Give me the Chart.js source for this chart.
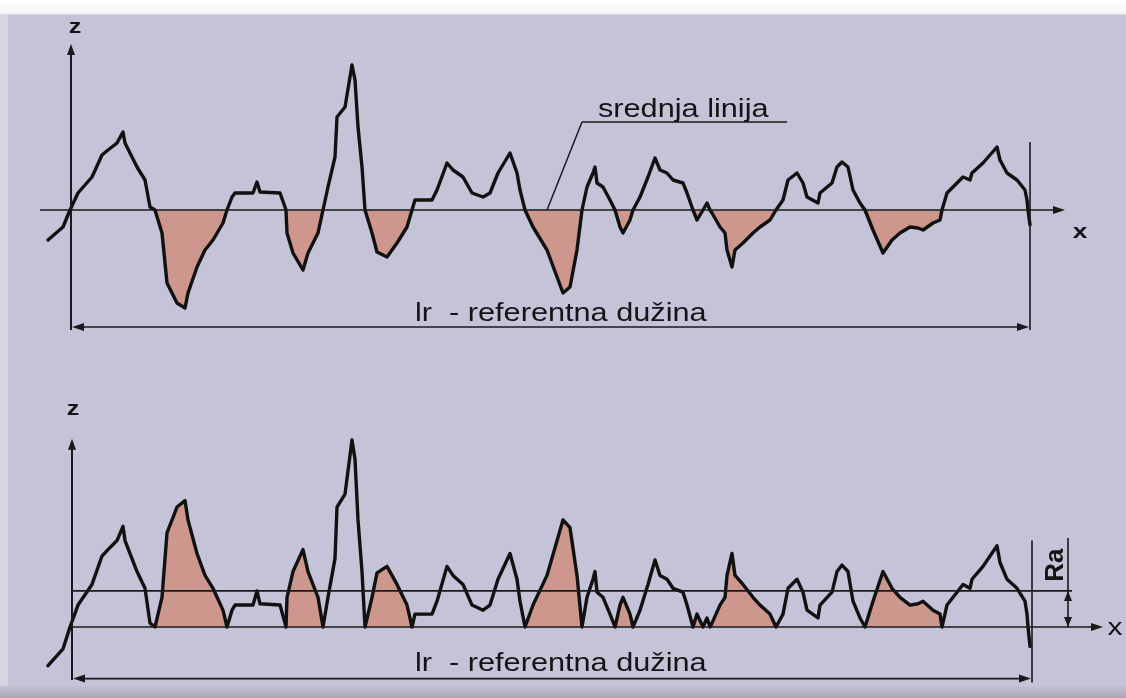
<!DOCTYPE html>
<html>
<head>
<meta charset="utf-8">
<script src="https://cdn.jsdelivr.net/npm/chart.js@4/dist/chart.umd.min.js"></script>
<style>
html,body{margin:0;padding:0;overflow:hidden;background:#c4c3d7;}
canvas{display:block;}
</style>
</head>
<body>
<canvas id="c" width="1126" height="698"></canvas>
<script>
// Profile position along the reference length (x) and height relative to the mean line (z)
const profileX = [-22,-7,0,8,22,32,38,47,53,55,67,75,80,85,92,97,107,115,118,127,135,143,153,157,162,165,183,187,190,210,215,216,217,223,233,238,248,253,258,265,267,275,282,285,288,292,295,302,307,317,327,337,342,345,362,367,377,383,393,402,413,420,428,440,447,450,455,463,477,493,500,507,512,517,523,525,527,533,540,545,550,553,560,563,570,578,585,590,597,603,613,617,623,627,633,637,640,642,650,655,657,662,665,673,683,690,700,706,713,718,727,733,737,748,750,762,767,772,778,783,790,795,803,813,822,830,840,848,853,863,870,872,877,887,893,900,902,913,927,930,937,947,955,957,958,960];
const profileZ = [-30,-17,0,17,33,55,60,67,78,67,43,30,3,0,-23,-73,-93,-98,-83,-57,-40,-30,-13,0,13,17,17,28,18,17,3,0,-23,-43,-60,-43,-23,0,23,53,93,103,145,130,83,43,0,-23,-42,-47,-33,-17,0,10,10,20,47,40,33,17,13,17,37,57,37,20,0,-17,-40,-83,-77,-40,0,23,37,43,27,23,10,0,-17,-23,-10,0,13,33,52,40,37,30,27,17,0,-10,0,7,0,-3,-17,-23,-40,-57,-40,-33,-23,-17,-10,0,10,30,37,27,13,7,17,27,43,48,43,20,7,0,-20,-43,-30,-23,-17,-18,-20,-13,-10,0,17,27,33,30,37,47,63,50,37,30,20,10,0,-15];
const raValue = 28;          // Ra: arithmetic mean deviation (bottom chart)
const lrStart = 0;           // start of reference length lr
const lrEnd = 960;           // end of reference length lr
const flipEnd = 958;         // last point inside the evaluated range
const labelTop = "srednja linija";
const labelLr = "lr  - referentna dužina";
const labelLr2 = "lr  - referentna dužina";

const fillColor = '#cd978d';
const lineColor = '#111111';

const inLr = x => x>=lrStart && x<=flipEnd;
const topPts = profileX.map((x,i)=>({x:x, y:profileZ[i]}));
const topFill = profileX.map((x,i)=>({x:x, y:(inLr(x) && profileZ[i]<0) ? profileZ[i] : 0}));
const botPts = profileX.map((x,i)=>({x:x, y:inLr(x) ? Math.abs(profileZ[i]) : profileZ[i]}));
const botFill = profileX.map((x,i)=>({x:x, y:(inLr(x) && profileZ[i]<0) ? -profileZ[i] : 0}));

function arrow(ctx, x, y, dir, len, w){
  len = len||11; w = w||4;
  ctx.beginPath();
  if(dir==='r'){ctx.moveTo(x,y);ctx.lineTo(x-len,y-w);ctx.lineTo(x-len,y+w);}
  if(dir==='l'){ctx.moveTo(x,y);ctx.lineTo(x+len,y-w);ctx.lineTo(x+len,y+w);}
  if(dir==='u'){ctx.moveTo(x,y);ctx.lineTo(x-w,y+len);ctx.lineTo(x+w,y+len);}
  if(dir==='d'){ctx.moveTo(x,y);ctx.lineTo(x-w,y-len);ctx.lineTo(x+w,y-len);}
  ctx.closePath();ctx.fill();
}
function line(ctx,x1,y1,x2,y2,w){
  ctx.lineWidth=w||1.5;ctx.beginPath();ctx.moveTo(x1,y1);ctx.lineTo(x2,y2);ctx.stroke();
}
function stext(ctx, t, x, y, font, sx, align){
  ctx.save();ctx.font=font;ctx.textAlign=align||'left';ctx.textBaseline='alphabetic';
  ctx.translate(x,y);ctx.scale(sx,1);ctx.fillText(t,0,0);ctx.restore();
}

const bgPlugin = {
  id:'bg',
  beforeDraw(chart){
    const ctx=chart.ctx, W=chart.width, H=chart.height;
    ctx.save();
    ctx.fillStyle='#c4c3d7';ctx.fillRect(0,0,W,H);
    let g=ctx.createLinearGradient(0,0,0,16);
    g.addColorStop(0,'#ffffff');g.addColorStop(0.8,'#f6f6f9');g.addColorStop(1,'#c8c7da');
    ctx.fillStyle=g;ctx.fillRect(0,0,W,15);
    ctx.fillStyle='rgba(225,225,235,0.6)';ctx.fillRect(0,15,8,H-15);
    g=ctx.createLinearGradient(0,686,0,698);
    g.addColorStop(0,'#c2c1d4');g.addColorStop(1,'#a9a8b8');
    ctx.fillStyle=g;ctx.fillRect(0,686,W,12);
    ctx.restore();
  }
};

const annoPlugin = {
  id:'anno',
  afterDatasetsDraw(chart){
    const ctx=chart.ctx, xs=chart.scales.x, yt=chart.scales.yTop, yb=chart.scales.yBot;
    const X=v=>xs.getPixelForValue(v);
    ctx.save();
    ctx.strokeStyle='#1a1a1a';ctx.fillStyle='#1a1a1a';
    // ---------- top chart ----------
    const m=yt.getPixelForValue(0);
    const x0=X(lrStart)+1, x1=X(lrEnd);
    line(ctx, X(-30), m, X(990), m, 1.6); arrow(ctx, X(995), m, 'r', 12, 4);
    line(ctx, x0, yt.getPixelForValue(-120), x0, yt.getPixelForValue(158), 2); arrow(ctx, x0, yt.getPixelForValue(166), 'u', 11, 4);
    line(ctx, x1, yt.getPixelForValue(68), x1, yt.getPixelForValue(-120), 1.6);
    const lrY=yt.getPixelForValue(-117);
    line(ctx, x0+8, lrY, x1-8, lrY, 1.6); arrow(ctx, x0+1, lrY, 'l', 12, 4); arrow(ctx, x1-1, lrY, 'r', 12, 4);
    // leader to mean line
    line(ctx, X(477), m, X(512), yt.getPixelForValue(88), 1.5);
    line(ctx, X(512), yt.getPixelForValue(88), X(717), yt.getPixelForValue(88), 1.5);
    ctx.fillStyle='#141414';
    stext(ctx, labelTop, X(528), yt.getPixelForValue(93), '26px "Liberation Sans", Arial, sans-serif', 1.18);
    stext(ctx, labelLr, X(345), yt.getPixelForValue(-111), '26px "Liberation Sans", Arial, sans-serif', 1.18);
    stext(ctx, 'z', X(5), yt.getPixelForValue(177), 'bold 21px "Liberation Sans", Arial, sans-serif', 1.2, 'center');
    stext(ctx, 'x', X(1010), yt.getPixelForValue(-28), 'bold 21px "Liberation Sans", Arial, sans-serif', 1.25, 'center');
    // ---------- bottom chart ----------
    ctx.fillStyle='#1a1a1a';
    const b=yb.getPixelForValue(0), ra=yb.getPixelForValue(raValue);
    const bx0=X(lrStart)+2, bx1=X(lrEnd)+2;
    line(ctx, bx0, b, X(1026), b, 1.6); arrow(ctx, X(1033), b, 'r', 12, 4);
    line(ctx, bx0, ra, X(1002), ra, 1.6);
    line(ctx, bx0, yb.getPixelForValue(-41), bx0, yb.getPixelForValue(138), 2); arrow(ctx, bx0, yb.getPixelForValue(146), 'u', 11, 4);
    line(ctx, bx1, yb.getPixelForValue(67), bx1, yb.getPixelForValue(-43), 1.6);
    const lrY2=yb.getPixelForValue(-40);
    line(ctx, bx0+8, lrY2, bx1-8, lrY2, 1.6); arrow(ctx, bx0+1, lrY2, 'l', 12, 4); arrow(ctx, bx1-1, lrY2, 'r', 12, 4);
    // Ra dimension
    const rx=X(998);
    line(ctx, rx, yb.getPixelForValue(69), rx, b, 1.6);
    arrow(ctx, rx, ra, 'u', 10, 4); arrow(ctx, rx, b, 'd', 10, 4);
    ctx.fillStyle='#141414';
    ctx.save(); ctx.translate(X(993), yb.getPixelForValue(48)); ctx.rotate(-Math.PI/2);
    ctx.font='bold 26px "Liberation Sans", Arial, sans-serif'; ctx.textAlign='center'; ctx.textBaseline='alphabetic';
    ctx.fillText('Ra',0,0); ctx.restore();
    stext(ctx, labelLr2, X(345), yb.getPixelForValue(-34), '26px "Liberation Sans", Arial, sans-serif', 1.18);
    stext(ctx, 'z', X(3), yb.getPixelForValue(164), 'bold 21px "Liberation Sans", Arial, sans-serif', 1.2, 'center');
    stext(ctx, 'x', X(1045), yb.getPixelForValue(-6), '24px "Liberation Sans", Arial, sans-serif', 1.25, 'center');
    ctx.restore();
  }
};

const lineStyle = {borderColor:lineColor, borderWidth:3.4, pointRadius:0, tension:0,
                   borderJoinStyle:'round', borderCapStyle:'round', order:1, fill:false};
const fillStyle = {borderWidth:0, borderColor:'rgba(0,0,0,0)', backgroundColor:fillColor,
                   pointRadius:0, tension:0, order:2, fill:'origin'};

new Chart(document.getElementById('c'), {
  type:'line',
  data:{
    datasets:[
      Object.assign({label:'profil', data:topPts, yAxisID:'yTop'}, lineStyle),
      Object.assign({label:'udubljenja', data:topFill, yAxisID:'yTop'}, fillStyle),
      Object.assign({label:'|profil|', data:botPts, yAxisID:'yBot'}, lineStyle),
      Object.assign({label:'|udubljenja|', data:botFill, yAxisID:'yBot'}, fillStyle)
    ]
  },
  options:{
    responsive:false, animation:false, devicePixelRatio:1,
    layout:{padding:0},
    plugins:{legend:{display:false}, tooltip:{enabled:false}, title:{display:false}},
    scales:{
      x:{type:'linear', display:false, min:-70, max:1056},
      yTop:{type:'linear', display:false, position:'left', min:-488, max:210},
      yBot:{type:'linear', display:false, position:'left', min:-55.04, max:486.05}
    }
  },
  plugins:[bgPlugin, annoPlugin]
});
</script>
</body>
</html>
